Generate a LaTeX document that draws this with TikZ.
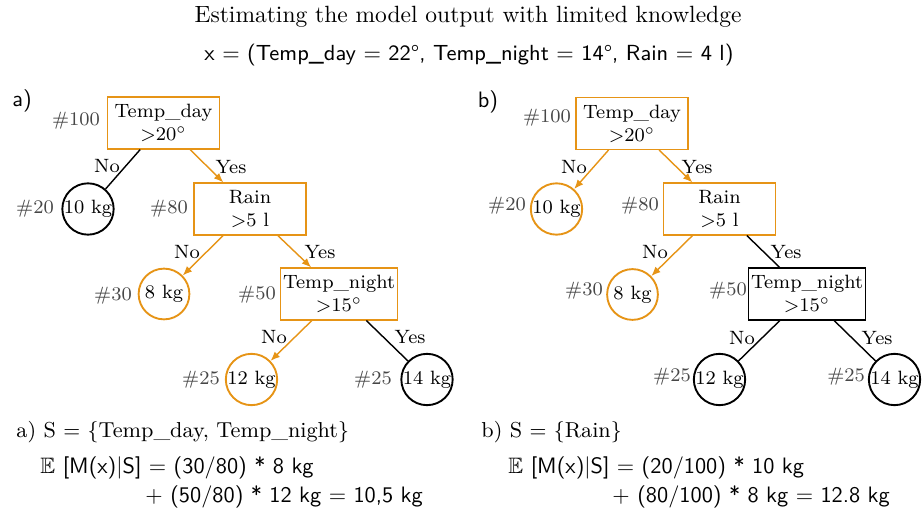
\documentclass[tikz,border=0pt]{standalone}
\usepackage{amssymb}
\usepackage{fontspec}
\usetikzlibrary{arrows.meta}
\definecolor{orng}{RGB}{230,148,22}
\begin{document}
\begin{tikzpicture}[x=0.42553pt,y=-0.42553pt,
  every node/.style={inner sep=0pt},
  box/.style={draw, semithick, minimum width=47.5pt, minimum height=22pt, align=center, inner sep=1pt, font=\fontsize{8.2}{9.8}\selectfont},
  leaf/.style={circle, draw, thick, minimum size=21.6pt, inner sep=0pt, font=\fontsize{8.2}{9.8}\selectfont},
  hot/.style={draw=orng},
  cnt/.style={text=black!72, font=\fontsize{8.2}{9.8}\selectfont},
  lbl/.style={font=\fontsize{8.2}{9.8}\selectfont},
  plain/.style={semithick},
  hotedge/.style={semithick, orng, -{Latex[length=4pt,width=3.2pt]}},
  serifline/.style={anchor=west, font=\fontsize{9.2}{11}\selectfont},
  sansline/.style={anchor=west, font=\sffamily\fontsize{9.5}{11}\selectfont},
]
\useasboundingbox (0,0) rectangle (922,510);

% titles
\node[font=\fontsize{10}{12}\selectfont] (title) at (468,17) {Estimating the model output with limited knowledge};
\node[font=\sffamily\fontsize{9.3}{11}\selectfont] (sub) at (469,55) {x = (Temp\_day = 22\textdegree, Temp\_night = 14\textdegree, Rain = 4 l)};

% ---------- tree a ----------
\node[font=\sffamily\fontsize{9.5}{11}\selectfont] (la) at (22,101) {a)};
\node[box,hot] (ra) at (163.5,123) {Temp\_day\\$>$20$^\circ$};
\node[leaf] (a10) at (88,209) {10 kg};
\node[box,hot] (rna) at (250,209) {Rain\\$>$5 l};
\node[leaf,hot] (a8) at (164,294) {8 kg};
\node[box,hot] (tna) at (339,294) {Temp\_night\\$>$15$^\circ$};
\node[leaf,hot] (a12) at (251.5,379.5) {12 kg};
\node[leaf] (a14) at (427,379.5) {14 kg};

\node[cnt] (ca100) at (76,121) {\#100};
\node[cnt] (ca20) at (35,209) {\#20};
\node[cnt] (ca80) at (169,209) {\#80};
\node[cnt] (ca30) at (113,296) {\#30};
\node[cnt] (ca50) at (257,295) {\#50};
\node[cnt] (ca25l) at (201,380) {\#25};
\node[cnt] (ca25r) at (373,380) {\#25};

\draw[plain] (ra) -- (a10);
\draw[hotedge] (ra) -- (rna);
\draw[hotedge] (rna) -- (a8);
\draw[hotedge] (rna) -- (tna);
\draw[hotedge] (tna) -- (a12);
\draw[plain] (tna) -- (a14);

\node[lbl] (na1) at (107,166) {No};
\node[lbl] (ya1) at (231,167) {Yes};
\node[lbl] (na2) at (187,252) {No};
\node[lbl] (ya2) at (320,252) {Yes};
\node[lbl] (na3) at (274,337) {No};
\node[lbl] (ya3) at (410,337) {Yes};

% ---------- tree b ----------
\node[font=\sffamily\fontsize{9.5}{11}\selectfont] (lb) at (488,102) {b)};
\node[box,hot] (rb) at (632,123.5) {Temp\_day\\$>$20$^\circ$};
\node[leaf,hot] (b10) at (556.5,209) {10 kg};
\node[box,hot] (rnb) at (719.5,209) {Rain\\$>$5 l};
\node[leaf,hot] (b8) at (632.5,294.5) {8 kg};
\node[box] (tnb) at (807,294) {Temp\_night\\$>$15$^\circ$};
\node[leaf] (b12) at (719.5,379.5) {12 kg};
\node[leaf] (b14) at (894.5,379.5) {14 kg};

\node[cnt] (cb100) at (547,118) {\#100};
\node[cnt] (cb20) at (507,206) {\#20};
\node[cnt] (cb80) at (640,206) {\#80};
\node[cnt] (cb30) at (584,291) {\#30};
\node[cnt] (cb50) at (728,291) {\#50};
\node[cnt] (cb25l) at (672,377) {\#25};
\node[cnt] (cb25r) at (846,377) {\#25};

\draw[hotedge] (rb) -- (b10);
\draw[hotedge] (rb) -- (rnb);
\draw[hotedge] (rnb) -- (b8);
\draw[plain] (rnb) -- (tnb);
\draw[plain] (tnb) -- (b12);
\draw[plain] (tnb) -- (b14);

\node[lbl] (nb1) at (574,167) {No};
\node[lbl] (yb1) at (697,167) {Yes};
\node[lbl] (nb2) at (655,252) {No};
\node[lbl] (yb2) at (786,252) {Yes};
\node[lbl] (nb3) at (742,338) {No};
\node[lbl] (yb3) at (877,338) {Yes};

% ---------- formulas ----------
\node[serifline] (sa) at (16,432) {a) S $=$ $\{$Temp\_day, Temp\_night$\}$};
\node[sansline] (ea1) at (40,468) {$\mathbb{E}$ [M(x)|S] = (30/80) * 8 kg};
\node[sansline] (ea2) at (145,497) {+ (50/80) * 12 kg = 10,5 kg};

\node[serifline] (sb) at (481,432) {b) S $=$ $\{$Rain$\}$};
\node[sansline] (eb1) at (508,468) {$\mathbb{E}$ [M(x)|S] = (20/100) * 10 kg};
\node[sansline] (eb2) at (612,497) {+ (80/100) * 8 kg = 12.8 kg};
\end{tikzpicture}
\end{document}
